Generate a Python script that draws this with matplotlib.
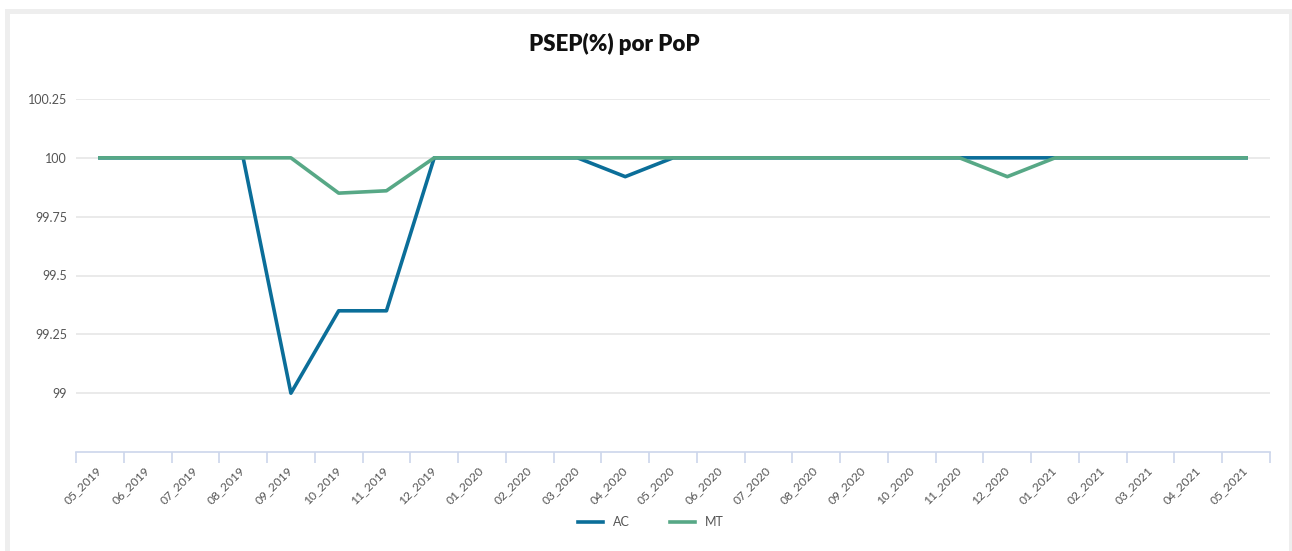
import matplotlib

matplotlib.use("Agg")

import matplotlib.pyplot as plt
import matplotlib.transforms as mtransforms
from matplotlib.patches import Rectangle
import numpy as np


MONTHS = [
    "05_2019", "06_2019", "07_2019", "08_2019", "09_2019", "10_2019",
    "11_2019", "12_2019", "01_2020", "02_2020", "03_2020", "04_2020",
    "05_2020", "06_2020", "07_2020", "08_2020", "09_2020", "10_2020",
    "11_2020", "12_2020", "01_2021", "02_2021", "03_2021", "04_2021",
    "05_2021",
]
AC = [
    100, 100, 100, 100, 99.0, 99.35, 99.35, 100, 100, 100, 100, 99.92,
    100, 100, 100, 100, 100, 100, 100, 100, 100, 100, 100, 100, 100,
]
MT = [
    100, 100, 100, 100, 100, 99.85, 99.86, 100, 100, 100, 100, 100,
    100, 100, 100, 100, 100, 100, 100, 99.92, 100, 100, 100, 100, 100,
]
Y_TICKS = [99, 99.25, 99.5, 99.75, 100, 100.25]
Y_LABELS = ["99", "99.25", "99.5", "99.75", "100", "100.25"]

AC_COLOR = "#0b6e99"
MT_COLOR = "#57a886"
GRID_COLOR = "#e6e6e6"
AXIS_COLOR = "#ccd6eb"
TEXT_COLOR = "#555555"

plt.rcParams["font.family"] = ["Lato", "DejaVu Sans"]

W, H = 1292, 551
fig = plt.figure(figsize=(W / 100, H / 100), dpi=100)
fig.patch.set_facecolor("white")

# light grey frame around the chart
fig.add_artist(Rectangle((5 / W, 0), 1 - 5 / W, 1 - 9 / H,
                         transform=fig.transFigure, facecolor="#eeeeee",
                         edgecolor="none", zorder=-2))
fig.add_artist(Rectangle((10 / W, 0), (1289 - 10) / W, 1 - 14 / H,
                         transform=fig.transFigure, facecolor="white",
                         edgecolor="none", zorder=-1))

ax = fig.add_axes([76 / W, 1 - 452 / H, (1270 - 76) / W, (452 - 99) / H])
x = np.arange(len(MONTHS))

ax.plot(x, AC, color=AC_COLOR, linewidth=2.6, label="AC", zorder=3)
ax.plot(x, MT, color=MT_COLOR, linewidth=2.6, label="MT", zorder=4)

ax.set_xlim(-0.5, len(MONTHS) - 0.5)
ax.set_ylim(98.75, 100.25)

ax.set_yticks(Y_TICKS, Y_LABELS)
ax.yaxis.grid(True, color=GRID_COLOR, linewidth=1.2)
ax.set_axisbelow(True)
ax.tick_params(axis="y", length=0, pad=6.5, labelsize=9, labelcolor=TEXT_COLOR)

ax.set_xticks(x, MONTHS, rotation=45, ha="right", va="top",
              rotation_mode="anchor")
ax.set_xticks(np.arange(-0.5, len(MONTHS)), minor=True)
ax.tick_params(axis="x", which="major", length=0, pad=9, labelsize=8.7,
               labelcolor=TEXT_COLOR)
ax.tick_params(axis="x", which="minor", length=8, width=1.2, color=AXIS_COLOR)

# nudge the rotated labels a little to the left
shift = mtransforms.ScaledTranslation(-4 / 100, 0, fig.dpi_scale_trans)
for label in ax.get_xticklabels():
    label.set_transform(label.get_transform() + shift)

for side in ["top", "right", "left"]:
    ax.spines[side].set_visible(False)
ax.spines["bottom"].set_color(AXIS_COLOR)
ax.spines["bottom"].set_linewidth(1.2)

fig.text(614 / W, 1 - 44 / H, "PSEP(%) por PoP", ha="center", va="center",
         fontsize=16, fontweight="heavy", color="#111111")

leg = fig.legend(loc="center", bbox_to_anchor=(651 / W, 1 - 522 / H), ncol=2,
                 frameon=False, fontsize=9, handlelength=2.0,
                 columnspacing=3.2, handletextpad=0.8)
for text in leg.get_texts():
    text.set_color(TEXT_COLOR)

fig.savefig("out.png", dpi=100, facecolor="white")
